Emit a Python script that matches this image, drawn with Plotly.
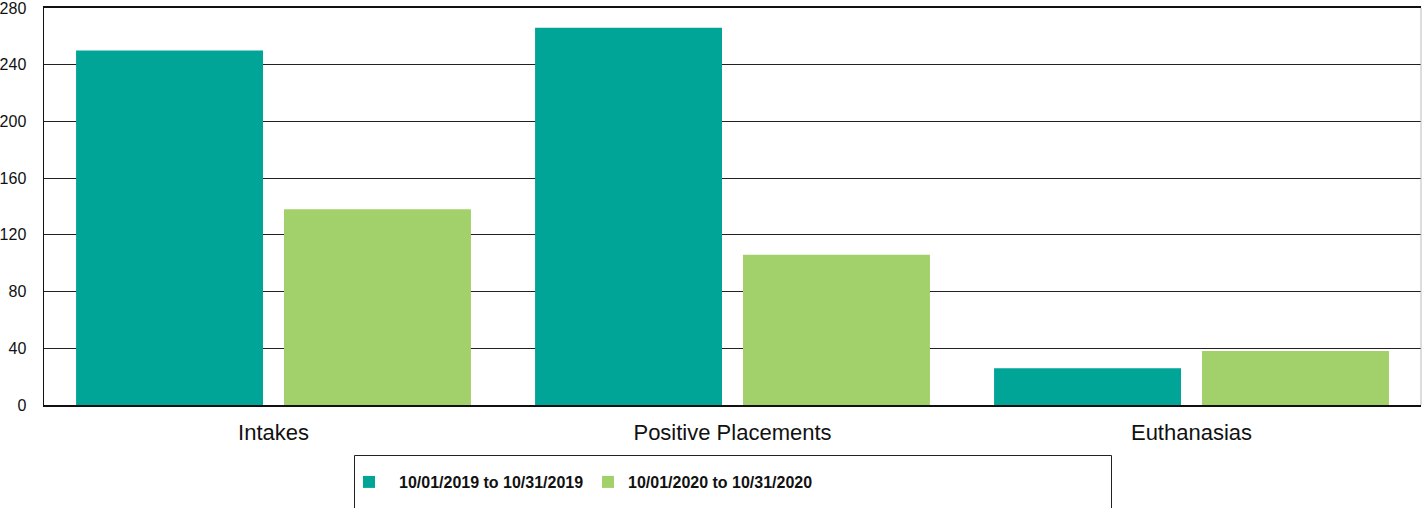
import plotly.graph_objects as go

categories = ["Intakes", "Positive Placements", "Euthanasias"]
series_names = ["10/01/2019 to 10/31/2019", "10/01/2020 to 10/31/2020"]
values_2019 = [250, 266, 26]
values_2020 = [138, 106, 38]
y_ticks = [0, 40, 80, 120, 160, 200, 240, 280]

colors = ["#00A597", "#A2D06A"]
legend_ids = ["legend", "legend2"]

fig = go.Figure()
for name, vals, col, lg in zip(series_names, [values_2019, values_2020], colors, legend_ids):
    fig.add_trace(go.Bar(x=categories, y=vals, name=name, marker_color=col,
                         marker_line_width=0, legend=lg))

W, H = 1422, 508
ml, mr, mt, mb = 44, 1, 8, 103
pw = W - ml - mr
ph = H - mt - mb

def px_x(p):
    return (p - ml) / pw

def px_y(p):
    return (H - mb - p) / ph

legend_font = dict(family="Liberation Sans, Arial, sans-serif", size=16,
                   color="#111111", weight="bold")

fig.update_layout(
    width=W, height=H,
    margin=dict(l=ml, r=mr, t=mt, b=mb, autoexpand=False),
    paper_bgcolor="white", plot_bgcolor="white",
    barmode="group", bargap=0.094, bargroupgap=0.101,
    font=dict(family="Liberation Sans, Arial, sans-serif", color="#111111"),
    showlegend=True,
    legend=dict(orientation="h", xanchor="left", x=px_x(339), yanchor="middle", y=px_y(482),
                font=legend_font, bgcolor="rgba(0,0,0,0)", borderwidth=0, itemwidth=50,
                itemclick=False),
    legend2=dict(orientation="h", xanchor="left", x=px_x(588), yanchor="middle", y=px_y(482),
                 font=legend_font, bgcolor="rgba(0,0,0,0)", borderwidth=0, itemwidth=30,
                 itemclick=False),
    shapes=[
        dict(type="rect", xref="paper", yref="paper",
             x0=px_x(354.5), x1=px_x(1111.5), y0=px_y(455.5), y1=px_y(530),
             line=dict(color="#222222", width=1), fillcolor="rgba(0,0,0,0)", layer="below"),
        dict(type="line", xref="paper", yref="paper", x0=1, x1=1, y0=0, y1=1,
             line=dict(color="#bbbbbb", width=1)),
    ],
)

fig.update_xaxes(showline=True, linecolor="#111111", linewidth=2, mirror=True,
                 ticks="", tickfont=dict(size=22, color="#111111"), automargin=False,
                 ticklabelstandoff=7, showgrid=False)
fig.update_yaxes(range=[0, 280], tickvals=y_ticks, showline=True, linecolor="#111111",
                 linewidth=1.5, showgrid=True, gridcolor="#222222", gridwidth=1,
                 ticks="", tickfont=dict(size=16, color="#111111"), automargin=False,
                 ticklabelstandoff=13, zeroline=False, ticklabeloverflow="allow")

post = "document.body.style.margin='0';document.body.style.padding='0';"

fig.write_html("out.html", post_script=post,
               config={"displayModeBar": False, "staticPlot": True})
